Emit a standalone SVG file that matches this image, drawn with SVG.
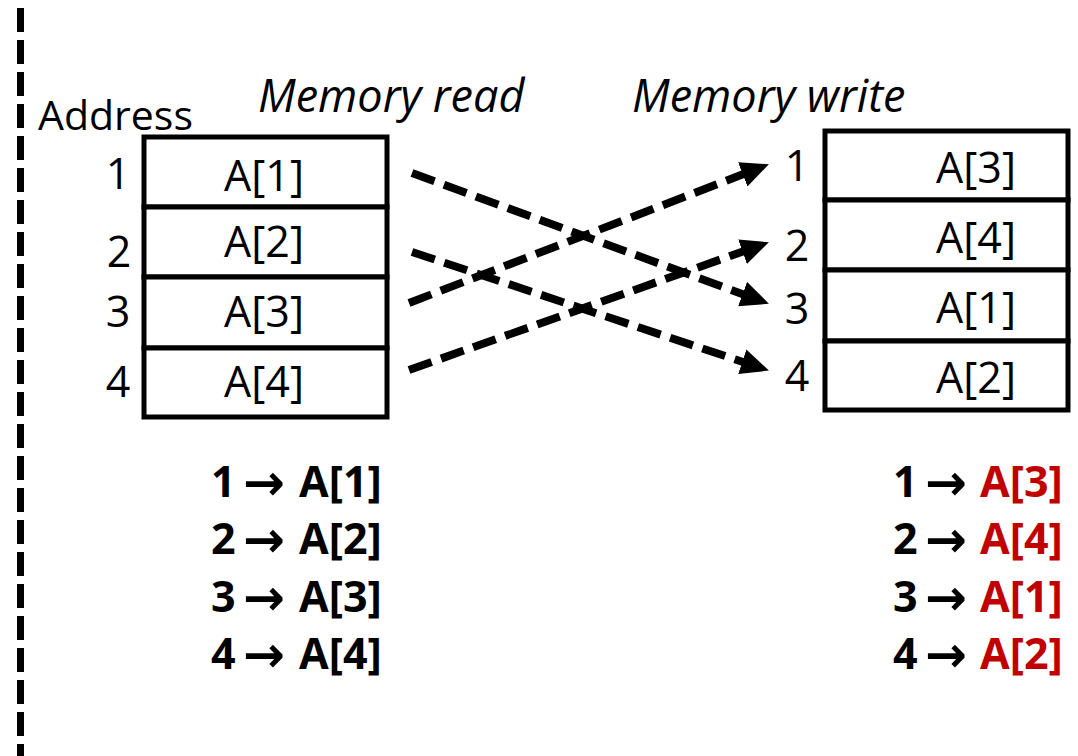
<svg xmlns="http://www.w3.org/2000/svg" width="1078" height="756" viewBox="0 0 1078 756">
<style>
text{font-family:"Open Sans","Noto Sans","Liberation Sans",sans-serif;fill:#000}
.t{font-size:43px}
.c{text-anchor:middle}
.it{font-style:italic;font-size:45px}
.b{font-weight:bold;font-size:43px}
.ar{font-family:"DejaVu Sans","Open Sans",sans-serif;font-weight:bold;font-size:50px;text-anchor:middle}
.red{fill:#C00000}
.box{fill:#fff;stroke:#000;stroke-width:5}
.con{stroke:#000;stroke-width:8;stroke-dasharray:24 10;fill:none;marker-end:url(#ah)}
</style>
<defs>
<marker id="ah" markerUnits="userSpaceOnUse" markerWidth="28" markerHeight="26" refX="16" refY="13" orient="auto">
<path d="M0,0 L28,13 L0,26 z" fill="#000"/>
</marker>
</defs>
<rect width="1078" height="756" fill="#fff"/>
<line x1="20.5" y1="8" x2="20.5" y2="756" stroke="#000" stroke-width="7" stroke-dasharray="24 8"/>
<g id="labels">
<text class="t" x="38" y="130" style="font-size:41px">Address</text>
<text class="it" x="258" y="112">Memory read</text>
<text class="it" x="632" y="112">Memory write</text>
</g>
<g id="read-memory">
<rect class="box" x="144" y="137" width="243" height="70"/>
<rect class="box" x="144" y="207" width="243" height="70"/>
<rect class="box" x="144" y="277" width="243" height="71"/>
<rect class="box" x="144" y="348" width="243" height="69"/>
<text class="t c" x="264" y="191">A[1]</text>
<text class="t c" x="264" y="257">A[2]</text>
<text class="t c" x="264" y="327">A[3]</text>
<text class="t c" x="264" y="397">A[4]</text>
<text class="t c" x="118" y="189">1</text>
<text class="t c" x="119" y="267">2</text>
<text class="t c" x="118" y="327">3</text>
<text class="t c" x="118" y="397">4</text>
</g>
<g id="write-memory">
<rect class="box" x="825" y="131" width="243" height="69"/>
<rect class="box" x="825" y="200" width="243" height="70"/>
<rect class="box" x="825" y="270" width="243" height="71"/>
<rect class="box" x="825" y="341" width="243" height="69"/>
<text class="t c" x="976" y="183">A[3]</text>
<text class="t c" x="976" y="253">A[4]</text>
<text class="t c" x="976" y="323">A[1]</text>
<text class="t c" x="976" y="393">A[2]</text>
<text class="t c" x="797" y="181">1</text>
<text class="t c" x="797" y="261">2</text>
<text class="t c" x="797" y="324">3</text>
<text class="t c" x="797" y="391">4</text>
</g>
<g id="connectors">
<line class="con" x1="412" y1="173" x2="757.6" y2="299.6"/>
<line class="con" x1="412" y1="252" x2="757.5" y2="366.8"/>
<line class="con" x1="409" y1="303" x2="757.7" y2="168.6"/>
<line class="con" x1="409" y1="370" x2="757.6" y2="246.3"/>
</g>
<g id="read-order">
<text class="b" x="211" y="497">1</text><text class="ar" x="264" y="500">→</text><text class="b" x="299" y="497">A[1]</text>
<text class="b" x="211" y="554">2</text><text class="ar" x="264" y="557">→</text><text class="b" x="299" y="554">A[2]</text>
<text class="b" x="211" y="612">3</text><text class="ar" x="264" y="615">→</text><text class="b" x="299" y="612">A[3]</text>
<text class="b" x="211" y="669">4</text><text class="ar" x="264" y="672">→</text><text class="b" x="299" y="669">A[4]</text>
</g>
<g id="write-order">
<text class="b" x="893" y="497">1</text><text class="ar" x="946" y="500">→</text><text class="b red" x="980" y="497">A[3]</text>
<text class="b" x="893" y="554">2</text><text class="ar" x="946" y="557">→</text><text class="b red" x="980" y="554">A[4]</text>
<text class="b" x="893" y="612">3</text><text class="ar" x="946" y="615">→</text><text class="b red" x="980" y="612">A[1]</text>
<text class="b" x="893" y="669">4</text><text class="ar" x="946" y="672">→</text><text class="b red" x="980" y="669">A[2]</text>
</g>
</svg>
